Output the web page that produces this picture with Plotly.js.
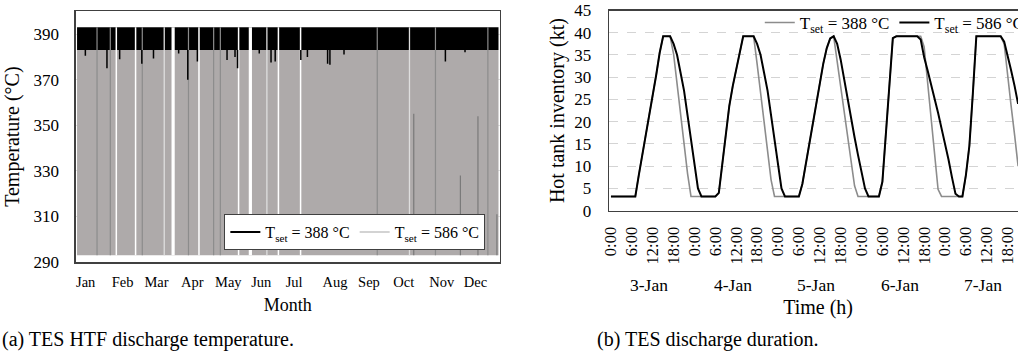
<!DOCTYPE html>
<html>
<head>
<meta charset="utf-8">
<script src="https://cdn.plot.ly/plotly-3.0.1.min.js"></script>
<style>
html, body { margin: 0; padding: 0; overflow: hidden; background: #fff; }
#chart { width: 1030px; height: 363px; }
</style>
</head>
<body>
<div id="chart"></div>
<script>
// ---------- Panel (a): TES HTF discharge temperature ----------
const monthLabels = ['Jan','Feb','Mar','Apr','May','Jun','Jul','Aug','Sep','Oct','Nov','Dec'];
const monthLabelDays = [7.5, 39.5, 68.8, 99.9, 131, 159.5, 188, 223.4, 252.8, 283, 315.8, 345];
const yearSpan = [0, 365];                 // day of year
const idleTemp = 293;                       // HTF temperature with no discharge (°C)
const dischargeTemp586 = 383;               // discharge temperature, T_set = 586 °C
const dischargeTemp388 = 393;               // discharge temperature, T_set = 388 °C
const noDischargeDays = [34, 50.7, 105.6, 139.9, 174.4, 193.6];     // narrow gaps
const longNoDischargeDays = [83.2, 150.1];                          // wide gaps
const partialDays = [75.5, 164.4, 287.9];                           // light gaps
const lowTempDays = [17.3, 28.8, 56.5, 96.5, 118.3, 124.1, 260, 310.4, 355.8];
const lowTempPartDays = [291.6, 332, 347.2, 363.6];
const lowTempPartTops = [355, 328, 354, 311];
const dipDays  = [7.2, 25.9, 36.9, 56.1, 66.2, 88, 95.9, 104.2, 129.9, 136.8, 139, 157.8, 168, 171.6, 193.8, 199.5, 217, 219, 231.2, 319, 336];
const dipTemps = [380.5, 375, 379, 377, 379.3, 381.5, 370, 378, 378.6, 380, 375, 381.5, 377.5, 378, 378.6, 380, 377, 376.5, 381, 378, 382];

// ---------- Panel (b): TES discharge duration ----------
const dayLabels = ['3-Jan','4-Jan','5-Jan','6-Jan','7-Jan'];
const hourLabels = ['0:00','6:00','12:00','18:00'];
const inventory388 = [
  3.2,3.2,3.2,3.2,3.2,3.2,3.2,3.2, 8,12.5,17,21.5,25.5,30.5,35.5,39.2,39.2,39.2,
  35.2,28.5,21.8,15.1,8.4, 3.2,3.2,3.2,3.2,3.2,3.2,3.2,3.2, 4,
  10.5,17,23.5,28,32,36,39.2,39.2,39.2,39.2,
  33,26.5,20,13.5,7, 3.2,3.2,3.2,3.2,3.2,3.2,3.2,3.2,
  6,10.5,15,20,24.5,29,33,36.5,38.7,39.2,
  33.6,28,22.5,16.9,11.3,5.6, 3.2,3.2,3.2,3.2,3.2,3.2,3.2,
  6.5,17,28,38.8, 39.2,39.2,39.2,39.2,39.2,39.2,39.2,39.2,
  36.8,28.8,20.8,12.8,4.8, 3.2,3.2,3.2,3.2,3.2,3.2,3.2,
  8,14.6,26.4,39.2, 39.2,39.2,39.2,39.2,39.2,39.2,39.2,
  37.5,30,23.5,17,10
];
const inventory586 = [
  3.2,3.2,3.2,3.2,3.2,3.2,3.2,3.2, 8,12.5,17,21.5,25.5,30.5,35.5,39.2,39.2,39.2,
  37.5,35,31,27,21.5,16,10.5,5,3.2,
  3.2,3.2,3.2,3.2,4,
  10.5,17,23.5,28,32,36,39.2,39.2,39.2,39.2,
  37.5,35,31,27,21.5,16,10.5,5,3.2,
  3.2,3.2,3.2,3.2,6,10.5,15,20,24.5,29,33,36.5,38.7,39.2,
  37.5,34,29.5,25.5,21,16.5,12.5,8.5,5,3.2,
  3.2,3.2,3.2,6.5,17,28,38.8,
  39.2,39.2,39.2,39.2,39.2,39.2,39.2,
  38.5,34.5,31.5,28.5,25.5,22,18.5,15.3,11.5,7.5,3.8,3.2,3.2,
  8,14.6,26.4,39.2,
  39.2,39.2,39.2,39.2,39.2,39.2,39.2,
  38,35,31.5,28,24
];

// ---------- build helpers ----------
function vLines(days, lo, hi) {
  const x = [], y = [];
  days.forEach((d, i) => {
    const top = Array.isArray(hi) ? hi[i] : hi;
    const bot = Array.isArray(lo) ? lo[i] : lo;
    x.push(d, d, null); y.push(bot, top, null);
  });
  return {x, y};
}
const hoursIdx = inventory586.map((_, i) => i);
const hourTickVals = [], hourTickText = [];
dayLabels.forEach((_, di) => hourLabels.forEach((lab, hi) => {
  hourTickVals.push(di * 24 + hi * 6); hourTickText.push(lab);
}));

const serif = 'Liberation Serif';
const GRAY = '#aeaaaa';

const gapW = vLines(noDischargeDays, idleTemp, dischargeTemp388);
const gapWide = vLines(longNoDischargeDays, idleTemp, dischargeTemp388);
const gapLight = vLines(partialDays, idleTemp, dischargeTemp388);
const low = vLines(lowTempDays, idleTemp, dischargeTemp388);
const lowPart = vLines(lowTempPartDays, idleTemp, lowTempPartTops);
const dips = vLines(dipDays, dipTemps, dischargeTemp586);

const traces = [
  // bands
  {x: yearSpan, y: [idleTemp, idleTemp], mode: 'lines', line: {width: 0, color: GRAY}, showlegend: false, hoverinfo: 'skip', xaxis: 'x', yaxis: 'y'},
  {x: yearSpan, y: [dischargeTemp586, dischargeTemp586], mode: 'lines', fill: 'tonexty', fillcolor: GRAY, line: {width: 0, color: GRAY}, showlegend: false, hoverinfo: 'skip', xaxis: 'x', yaxis: 'y'},
  {x: yearSpan, y: [dischargeTemp388, dischargeTemp388], mode: 'lines', fill: 'tonexty', fillcolor: '#000000', line: {width: 0, color: '#000'}, showlegend: false, hoverinfo: 'skip', xaxis: 'x', yaxis: 'y'},
  // overlays
  {x: low.x, y: low.y, mode: 'lines', line: {width: 1.2, color: '#8c8c8c'}, showlegend: false, hoverinfo: 'skip', xaxis: 'x', yaxis: 'y'},
  {x: lowPart.x, y: lowPart.y, mode: 'lines', line: {width: 1.2, color: '#7a7a7a'}, showlegend: false, hoverinfo: 'skip', xaxis: 'x', yaxis: 'y'},
  {x: gapLight.x, y: gapLight.y, mode: 'lines', line: {width: 1.3, color: '#dedede'}, showlegend: false, hoverinfo: 'skip', xaxis: 'x', yaxis: 'y'},
  {x: gapW.x, y: gapW.y, mode: 'lines', line: {width: 1.5, color: '#ffffff'}, showlegend: false, hoverinfo: 'skip', xaxis: 'x', yaxis: 'y'},
  {x: gapWide.x, y: gapWide.y, mode: 'lines', line: {width: 3.2, color: '#ffffff'}, showlegend: false, hoverinfo: 'skip', xaxis: 'x', yaxis: 'y'},
  {x: dips.x, y: dips.y, mode: 'lines', line: {width: 1.5, color: '#000'}, showlegend: false, hoverinfo: 'skip', xaxis: 'x', yaxis: 'y'},
  // legend entries panel (a)
  {x: [null], y: [null], mode: 'lines', name: 'T<sub>set</sub> = 388 °C', line: {width: 2, color: '#000'}, xaxis: 'x', yaxis: 'y', legend: 'legend', legendrank: 1},
  {x: [null], y: [null], mode: 'lines', name: 'T<sub>set</sub> = 586 °C', line: {width: 1.5, color: '#c4c4c4'}, xaxis: 'x', yaxis: 'y', legend: 'legend', legendrank: 2},
  // panel (b)
  {x: hoursIdx, y: inventory388, mode: 'lines', name: 'T<sub>set</sub> = 388 °C', line: {width: 1.6, color: '#8c8c8c'}, xaxis: 'x2', yaxis: 'y2', legend: 'legend2', legendrank: 1},
  {x: hoursIdx, y: inventory586, mode: 'lines', name: 'T<sub>set</sub> = 586 °C', line: {width: 2, color: '#000'}, xaxis: 'x2', yaxis: 'y2', legend: 'legend2', legendrank: 2}
];

const W = 1030, H = 363;
const annotations = dayLabels.map((t, i) => ({
  text: t, xref: 'x2', yref: 'paper', x: i * 24 + 11, y: (H - 285) / H,
  showarrow: false, font: {family: serif, size: 17.5, color: '#000'}, xanchor: 'center', yanchor: 'middle'
}));
annotations.push(
  {text: '(a) TES HTF discharge temperature.', xref: 'paper', yref: 'paper', x: 0, y: (H - 339) / H,
   showarrow: false, xanchor: 'left', yanchor: 'middle', font: {family: serif, size: 20, color: '#000'}},
  {text: '(b) TES discharge duration.', xref: 'paper', yref: 'paper', x: 597 / W, y: (H - 339) / H,
   showarrow: false, xanchor: 'left', yanchor: 'middle', font: {family: serif, size: 20, color: '#000'}}
);

const layout = {
  width: W, height: H,
  margin: {l: 0, r: 0, t: 0, b: 0},
  paper_bgcolor: '#fff', plot_bgcolor: '#fff',
  font: {family: serif, color: '#000'},
  xaxis: {
    domain: [76 / W, 501 / W], range: [-1.1, 365.9],
    tickvals: monthLabelDays, ticktext: monthLabels, ticks: '', ticklabelstandoff: 6,
    tickfont: {family: serif, size: 14.5}, showgrid: false, zeroline: false,
    showline: true, mirror: true, linecolor: '#404040', linewidth: 1.5,
    title: {text: 'Month', font: {family: serif, size: 18}, standoff: 9}
  },
  yaxis: {
    domain: [(H - 262) / H, (H - 11.3) / H], range: [290, 400],
    tickvals: [290, 310, 330, 350, 370, 390], ticks: '', ticklabelstandoff: 12,
    tickfont: {family: serif, size: 17}, showgrid: true, gridcolor: '#e0e0e0', zeroline: false,
    showline: true, mirror: true, linecolor: '#404040', linewidth: 1.5,
    title: {text: 'Temperature (°C)', font: {family: serif, size: 20}, standoff: 8}
  },
  xaxis2: {
    anchor: 'y2', domain: [611 / W, 1], range: [-0.5, -0.5 + (W - 611) / 3.49],
    tickvals: hourTickVals, ticktext: hourTickText, tickangle: -90, ticks: '', ticklabelstandoff: 8,
    tickfont: {family: serif, size: 16.5}, showgrid: false, zeroline: false,
    showline: true, mirror: true, linecolor: '#404040', linewidth: 1.5,
    title: {text: 'Time (h)', font: {family: serif, size: 20}, standoff: 36}
  },
  yaxis2: {
    anchor: 'x2', domain: [(H - 210.7) / H, (H - 10.5) / H], range: [0, 45],
    dtick: 5, ticks: '', ticklabelstandoff: 13,
    tickfont: {family: serif, size: 17}, showgrid: true, gridcolor: '#d4d4d4', griddash: 'dash', zeroline: false,
    showline: true, mirror: true, linecolor: '#404040', linewidth: 1.5,
    title: {text: 'Hot tank inventory (kt)', font: {family: serif, size: 20}, standoff: 4}
  },
  legend: {
    orientation: 'h', x: 225 / W, y: (H - 250) / H, xanchor: 'left', yanchor: 'bottom',
    bgcolor: '#fff', bordercolor: '#404040', borderwidth: 1, traceorder: 'normal',
    font: {family: serif, size: 16}, itemwidth: 30, tracegroupgap: 0
  },
  legend2: {
    orientation: 'h', x: 762 / W, y: (H - 23) / H, xanchor: 'left', yanchor: 'middle',
    bgcolor: 'rgba(0,0,0,0)', borderwidth: 0, traceorder: 'normal',
    font: {family: serif, size: 17}, itemwidth: 30
  },
  annotations: annotations,
  showlegend: true
};

Plotly.newPlot('chart', traces, layout, {staticPlot: true, displayModeBar: false});
</script>
</body>
</html>
